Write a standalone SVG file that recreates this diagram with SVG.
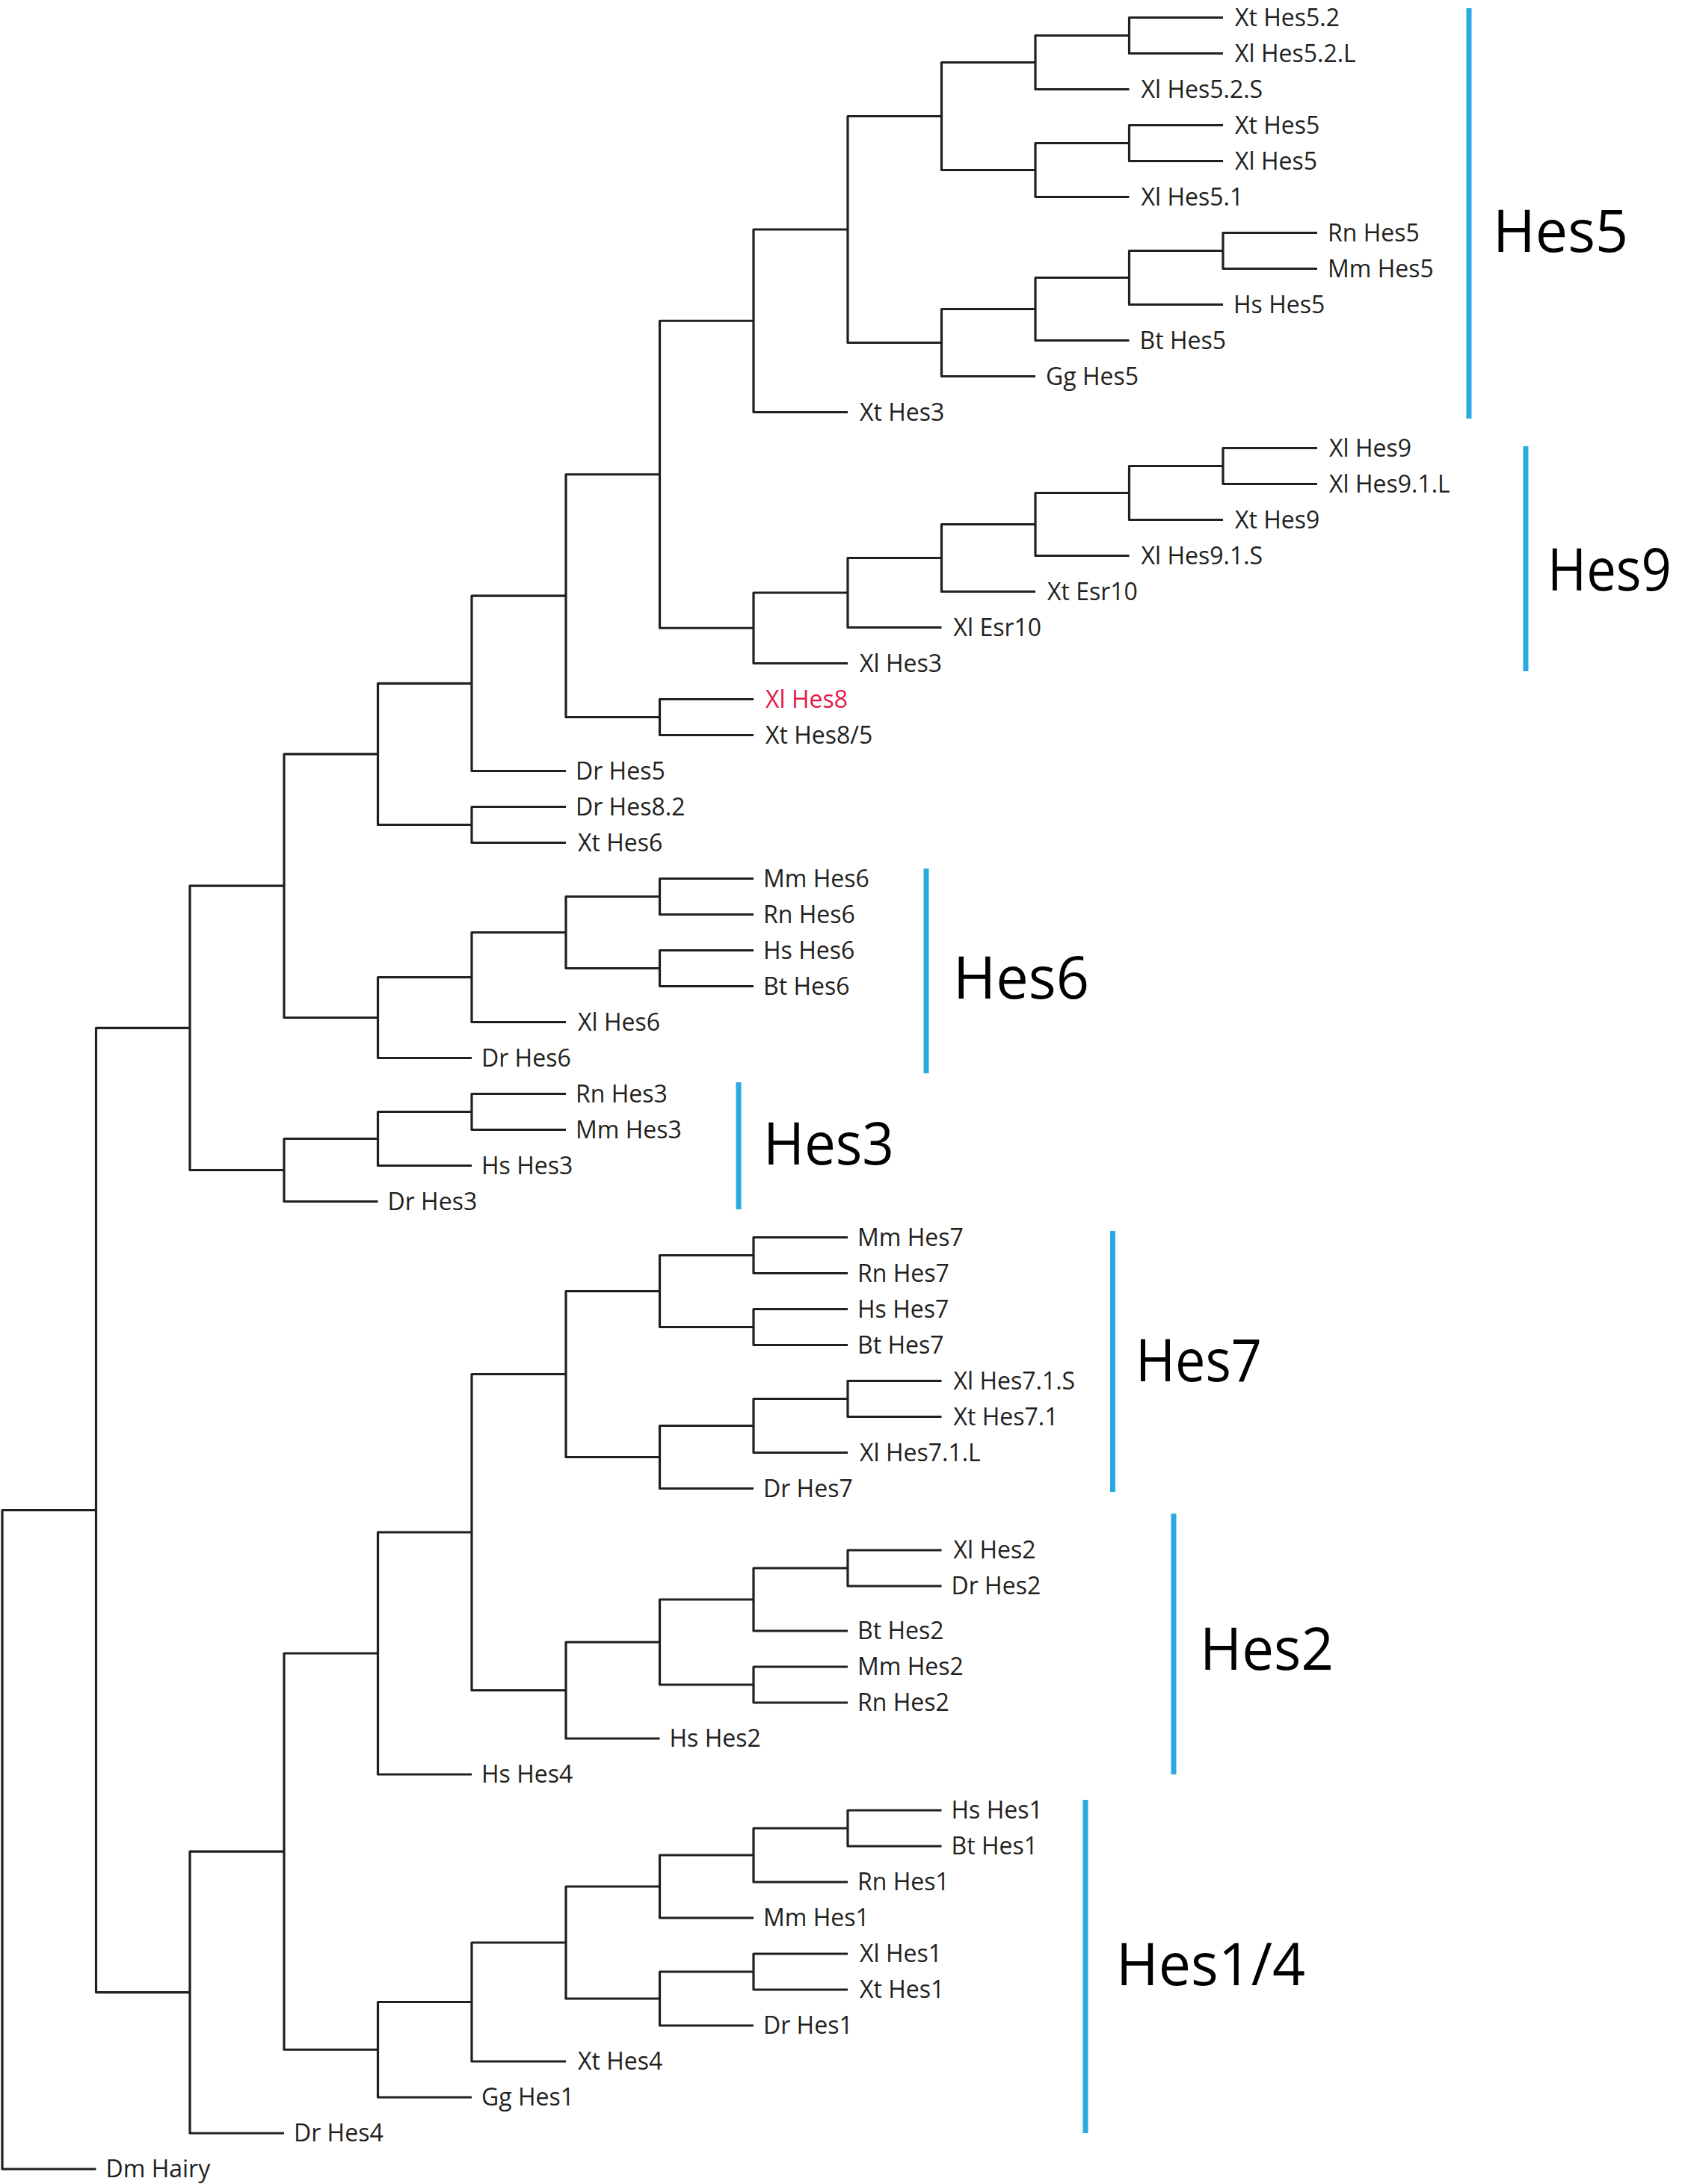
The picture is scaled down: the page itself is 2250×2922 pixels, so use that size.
<svg xmlns="http://www.w3.org/2000/svg" width="2250" height="2922" viewBox="0 0 2250 2922">
<style>
.br{fill:none;stroke:#231F20;stroke-width:3.2;stroke-linejoin:round;stroke-linecap:butt}
.lf{font-family:"Open Sans","Noto Sans","Liberation Sans",sans-serif;font-size:32px;fill:#231F20}
.red{fill:#E5194B}
.bar{stroke:#29ABE2;stroke-width:7;fill:none}
.cl{font-family:"Open Sans","Noto Sans","Liberation Sans",sans-serif;font-size:78px;fill:#000}
</style>
<rect width="2250" height="2922" fill="#fff"/>
<g id="connectors" class="br">
<path d="M128.5,2020.5 H3 V2902 H128.5"/>
<path d="M254,1375.35 H128.5 V2665.6 H254"/>
<path d="M380,1185.2 H254 V1565.5 H380"/>
<path d="M505.5,1008.9 H380 V1361.5 H505.5"/>
<path d="M631,914.3 H505.5 V1103.5 H631"/>
<path d="M757,797.1 H631 V1031.5 H757"/>
<path d="M882.5,634.75 H757 V959.5 H882.5"/>
<path d="M1008,429.25 H882.5 V840.25 H1008"/>
<path d="M1134,307 H1008 V551.5 H1134"/>
<path d="M1259.5,155.5 H1134 V458.5 H1259.5"/>
<path d="M1385,83.5 H1259.5 V227.5 H1385"/>
<path d="M1510.5,47.5 H1385 V119.5 H1510.5"/>
<path d="M1636,23.5 H1510.5 V71.5 H1636"/>
<path d="M1510.5,191.5 H1385 V263.5 H1510.5"/>
<path d="M1636,167.5 H1510.5 V215.5 H1636"/>
<path d="M1385,413.5 H1259.5 V503.5 H1385"/>
<path d="M1510.5,371.5 H1385 V455.5 H1510.5"/>
<path d="M1636,335.5 H1510.5 V407.5 H1636"/>
<path d="M1762,311.5 H1636 V359.5 H1762"/>
<path d="M1134,793 H1008 V887.5 H1134"/>
<path d="M1259.5,746.5 H1134 V839.5 H1259.5"/>
<path d="M1385,701.5 H1259.5 V791.5 H1385"/>
<path d="M1510.5,659.5 H1385 V743.5 H1510.5"/>
<path d="M1636,623.5 H1510.5 V695.5 H1636"/>
<path d="M1762,599.5 H1636 V647.5 H1762"/>
<path d="M1008,935.5 H882.5 V983.5 H1008"/>
<path d="M757,1079.5 H631 V1127.5 H757"/>
<path d="M631,1307.5 H505.5 V1415.5 H631"/>
<path d="M757,1247.5 H631 V1367.5 H757"/>
<path d="M882.5,1199.5 H757 V1295.5 H882.5"/>
<path d="M1008,1175.5 H882.5 V1223.5 H1008"/>
<path d="M1008,1271.5 H882.5 V1319.5 H1008"/>
<path d="M505.5,1523.5 H380 V1607.5 H505.5"/>
<path d="M631,1487.5 H505.5 V1559.5 H631"/>
<path d="M757,1463.5 H631 V1511.5 H757"/>
<path d="M380,2477.1 H254 V2854 H380"/>
<path d="M505.5,2212 H380 V2742.25 H505.5"/>
<path d="M631,2050 H505.5 V2374 H631"/>
<path d="M757,1838.5 H631 V2261.5 H757"/>
<path d="M882.5,1727.5 H757 V1949.5 H882.5"/>
<path d="M1008,1679.5 H882.5 V1775.5 H1008"/>
<path d="M1134,1655.5 H1008 V1703.5 H1134"/>
<path d="M1134,1751.5 H1008 V1799.5 H1134"/>
<path d="M1008,1907.5 H882.5 V1991.5 H1008"/>
<path d="M1134,1871.5 H1008 V1943.5 H1134"/>
<path d="M1259.5,1847.5 H1134 V1895.5 H1259.5"/>
<path d="M882.5,2197 H757 V2326 H882.5"/>
<path d="M1008,2140 H882.5 V2254 H1008"/>
<path d="M1134,2098 H1008 V2182 H1134"/>
<path d="M1259.5,2074 H1134 V2122 H1259.5"/>
<path d="M1134,2230 H1008 V2278 H1134"/>
<path d="M631,2678.5 H505.5 V2806 H631"/>
<path d="M757,2599 H631 V2758 H757"/>
<path d="M882.5,2524 H757 V2674 H882.5"/>
<path d="M1008,2482 H882.5 V2566 H1008"/>
<path d="M1134,2446 H1008 V2518 H1134"/>
<path d="M1259.5,2422 H1134 V2470 H1259.5"/>
<path d="M1008,2638 H882.5 V2710 H1008"/>
<path d="M1134,2614 H1008 V2662 H1134"/>
</g>
<g id="leaves" class="lf">
<g id="n-xt-hes5-2"><text x="1652" y="34.5">Xt Hes5.2</text></g>
<g id="n-xl-hes5-2-l"><text x="1652" y="82.5">Xl Hes5.2.L</text></g>
<g id="n-xl-hes5-2-s"><text x="1526.5" y="130.5">Xl Hes5.2.S</text></g>
<g id="n-xt-hes5"><text x="1652" y="178.5">Xt Hes5</text></g>
<g id="n-xl-hes5"><text x="1652" y="226.5">Xl Hes5</text></g>
<g id="n-xl-hes5-1"><text x="1526.5" y="274.5">Xl Hes5.1</text></g>
<g id="n-rn-hes5"><text x="1776" y="322.5">Rn Hes5</text></g>
<g id="n-mm-hes5"><text x="1776" y="370.5">Mm Hes5</text></g>
<g id="n-hs-hes5"><text x="1650" y="418.5">Hs Hes5</text></g>
<g id="n-bt-hes5"><text x="1524.5" y="466.5">Bt Hes5</text></g>
<g id="n-gg-hes5"><text x="1399" y="514.5">Gg Hes5</text></g>
<g id="n-xt-hes3"><text x="1150" y="562.5">Xt Hes3</text></g>
<g id="n-xl-hes9"><text x="1778" y="610.5">Xl Hes9</text></g>
<g id="n-xl-hes9-1-l"><text x="1778" y="658.5">Xl Hes9.1.L</text></g>
<g id="n-xt-hes9"><text x="1652" y="706.5">Xt Hes9</text></g>
<g id="n-xl-hes9-1-s"><text x="1526.5" y="754.5">Xl Hes9.1.S</text></g>
<g id="n-xt-esr10"><text x="1401" y="802.5">Xt Esr10</text></g>
<g id="n-xl-esr10"><text x="1275.5" y="850.5">Xl Esr10</text></g>
<g id="n-xl-hes3"><text x="1150" y="898.5">Xl Hes3</text></g>
<g id="n-xl-hes8"><text class="red" x="1024" y="946.5">Xl Hes8</text></g>
<g id="n-xt-hes8-5"><text x="1024" y="994.5">Xt Hes8/5</text></g>
<g id="n-dr-hes5"><text x="770" y="1042.5">Dr Hes5</text></g>
<g id="n-dr-hes8-2"><text x="770" y="1090.5">Dr Hes8.2</text></g>
<g id="n-xt-hes6"><text x="773" y="1138.5">Xt Hes6</text></g>
<g id="n-mm-hes6"><text x="1021" y="1186.5">Mm Hes6</text></g>
<g id="n-rn-hes6"><text x="1021" y="1234.5">Rn Hes6</text></g>
<g id="n-hs-hes6"><text x="1021" y="1282.5">Hs Hes6</text></g>
<g id="n-bt-hes6"><text x="1021" y="1330.5">Bt Hes6</text></g>
<g id="n-xl-hes6"><text x="773" y="1378.5">Xl Hes6</text></g>
<g id="n-dr-hes6"><text x="644" y="1426.5">Dr Hes6</text></g>
<g id="n-rn-hes3"><text x="770" y="1474.5">Rn Hes3</text></g>
<g id="n-mm-hes3"><text x="770" y="1522.5">Mm Hes3</text></g>
<g id="n-hs-hes3"><text x="644" y="1570.5">Hs Hes3</text></g>
<g id="n-dr-hes3"><text x="518.5" y="1618.5">Dr Hes3</text></g>
<g id="n-mm-hes7"><text x="1147" y="1666.5">Mm Hes7</text></g>
<g id="n-rn-hes7"><text x="1147" y="1714.5">Rn Hes7</text></g>
<g id="n-hs-hes7"><text x="1147" y="1762.5">Hs Hes7</text></g>
<g id="n-bt-hes7"><text x="1147" y="1810.5">Bt Hes7</text></g>
<g id="n-xl-hes7-1-s"><text x="1275.5" y="1858.5">Xl Hes7.1.S</text></g>
<g id="n-xt-hes7-1"><text x="1275.5" y="1906.5">Xt Hes7.1</text></g>
<g id="n-xl-hes7-1-l"><text x="1150" y="1954.5">Xl Hes7.1.L</text></g>
<g id="n-dr-hes7"><text x="1021" y="2002.5">Dr Hes7</text></g>
<g id="n-xl-hes2"><text x="1275.5" y="2085">Xl Hes2</text></g>
<g id="n-dr-hes2"><text x="1272.5" y="2133">Dr Hes2</text></g>
<g id="n-bt-hes2"><text x="1147" y="2193">Bt Hes2</text></g>
<g id="n-mm-hes2"><text x="1147" y="2241">Mm Hes2</text></g>
<g id="n-rn-hes2"><text x="1147" y="2289">Rn Hes2</text></g>
<g id="n-hs-hes2"><text x="895.5" y="2337">Hs Hes2</text></g>
<g id="n-hs-hes4"><text x="644" y="2385">Hs Hes4</text></g>
<g id="n-hs-hes1"><text x="1272.5" y="2433">Hs Hes1</text></g>
<g id="n-bt-hes1"><text x="1272.5" y="2481">Bt Hes1</text></g>
<g id="n-rn-hes1"><text x="1147" y="2529">Rn Hes1</text></g>
<g id="n-mm-hes1"><text x="1021" y="2577">Mm Hes1</text></g>
<g id="n-xl-hes1"><text x="1150" y="2625">Xl Hes1</text></g>
<g id="n-xt-hes1"><text x="1150" y="2673">Xt Hes1</text></g>
<g id="n-dr-hes1"><text x="1021" y="2721">Dr Hes1</text></g>
<g id="n-xt-hes4"><text x="773" y="2769">Xt Hes4</text></g>
<g id="n-gg-hes1"><text x="644" y="2817">Gg Hes1</text></g>
<g id="n-dr-hes4"><text x="393" y="2865">Dr Hes4</text></g>
<g id="n-dm-hairy"><text x="141.5" y="2913">Dm Hairy</text></g>
</g>
<g id="clades">
<g id="clade-hes5"><line class="bar" x1="1965" y1="11" x2="1965" y2="560"/><text class="cl" x="1997" y="337" textLength="181" lengthAdjust="spacingAndGlyphs">Hes5</text></g>
<g id="clade-hes9"><line class="bar" x1="2041" y1="597" x2="2041" y2="898"/><text class="cl" x="2070" y="790" textLength="166" lengthAdjust="spacingAndGlyphs">Hes9</text></g>
<g id="clade-hes6"><line class="bar" x1="1239" y1="1162" x2="1239" y2="1436"/><text class="cl" x="1275" y="1335.5" textLength="182" lengthAdjust="spacingAndGlyphs">Hes6</text></g>
<g id="clade-hes3"><line class="bar" x1="988" y1="1448" x2="988" y2="1618"/><text class="cl" x="1021" y="1558" textLength="175" lengthAdjust="spacingAndGlyphs">Hes3</text></g>
<g id="clade-hes7"><line class="bar" x1="1488.5" y1="1647" x2="1488.5" y2="1996"/><text class="cl" x="1519" y="1848" textLength="169" lengthAdjust="spacingAndGlyphs">Hes7</text></g>
<g id="clade-hes2"><line class="bar" x1="1570" y1="2025" x2="1570" y2="2374"/><text class="cl" x="1605" y="2234" textLength="179" lengthAdjust="spacingAndGlyphs">Hes2</text></g>
<g id="clade-hes14"><line class="bar" x1="1452" y1="2408" x2="1452" y2="2854"/><text class="cl" x="1493" y="2656" textLength="253" lengthAdjust="spacingAndGlyphs">Hes1/4</text></g>
</g>
</svg>
